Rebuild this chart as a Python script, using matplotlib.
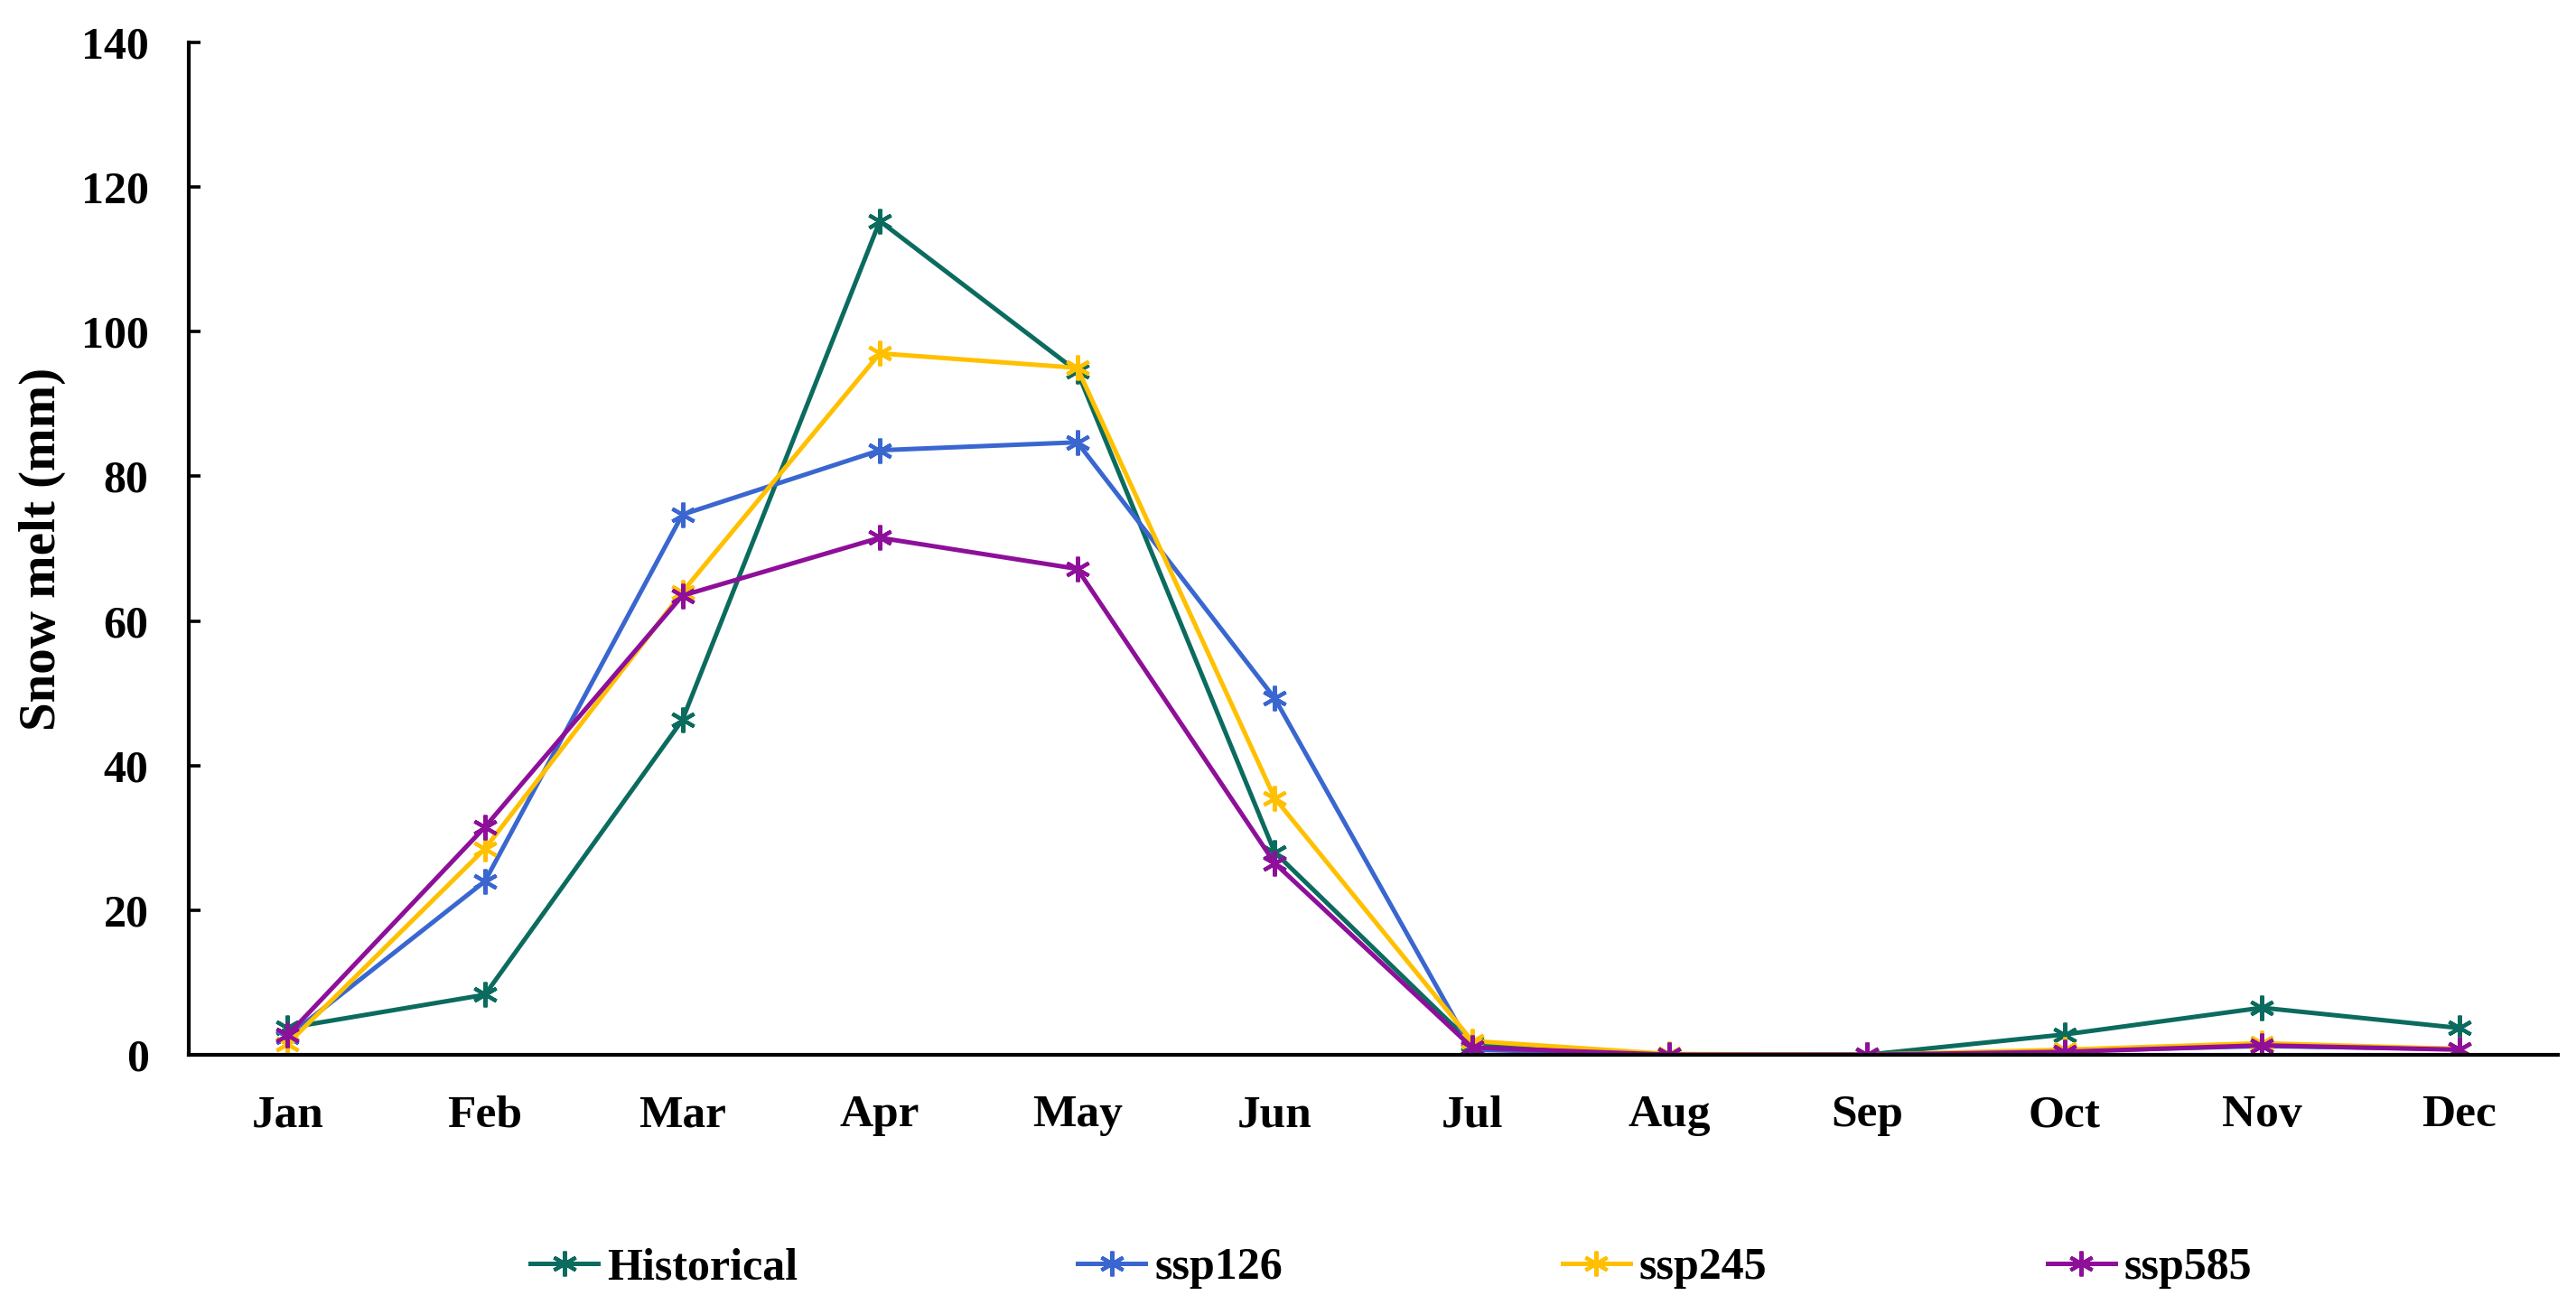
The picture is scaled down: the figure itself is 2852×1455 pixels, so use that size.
import numpy as np
import matplotlib.pyplot as plt

# data
months = ['Jan', 'Feb', 'Mar', 'Apr', 'May', 'Jun', 'Jul', 'Aug', 'Sep', 'Oct', 'Nov', 'Dec']
historical = [3.7, 8.3, 46.3, 115.3, 94.5, 28.0, 1.5, 0.0, 0.0, 2.8, 6.5, 3.7]
ssp126 = [2.5, 24.0, 74.7, 83.6, 84.7, 49.3, 0.7, 0.0, 0.0, 0.5, 1.2, 0.8]
ssp245 = [1.5, 28.5, 64.0, 97.0, 95.0, 35.5, 1.9, 0.1, 0.0, 0.7, 1.6, 0.8]
ssp585 = [2.7, 31.5, 63.5, 71.5, 67.2, 26.5, 1.0, 0.0, 0.0, 0.4, 1.3, 0.7]

names = ['Historical', 'ssp126', 'ssp245', 'ssp585']
colours = ['#0b6b5f', '#3a66d0', '#ffc000', '#8e0f9a']

plt.rcParams['font.family'] = ['Liberation Serif', 'DejaVu Serif']
plt.rcParams['font.weight'] = 'bold'
fs = 18

fig = plt.figure(figsize=(14.26, 7.275), dpi=200)
ax = fig.add_axes([0.0733, 0.1973, 0.9197, 0.7704])

x = np.arange(len(months))
star = (6, 2, 0)  # asterisk marker like excel's
for vals, nm, c in zip([historical, ssp126, ssp245, ssp585], names, colours):
    ax.plot(x, vals, color=c, lw=1.8, marker=star, markersize=10, markeredgewidth=1.5, label=nm)

ax.set_xlim(-0.5, len(months) - 0.5)
ax.set_ylim(0, 140)
ax.set_yticks(np.arange(0, 141, 20))
ax.set_xticks(x)
ax.set_xticklabels(months)

for s in ['top', 'right']:
    ax.spines[s].set_visible(False)
for s in ['left', 'bottom']:
    ax.spines[s].set_linewidth(1.5)
ax.tick_params(axis='y', direction='in', length=4.8, width=1.3, pad=16, labelsize=fs)
ax.tick_params(axis='x', length=0, pad=16, labelsize=18.5)
for lab in ax.get_xticklabels() + ax.get_yticklabels():
    lab.set_fontweight('bold')

ax.set_ylabel('Snow melt (mm)', fontsize=20.5, fontweight='bold', labelpad=6)

fig.legend(loc='center', bbox_to_anchor=(0.54, 0.035), ncol=4, frameon=False,
           prop={'size': fs, 'weight': 'bold'}, handlelength=1.5, handletextpad=0.2,
           columnspacing=6.2)

fig.savefig('out.png')
